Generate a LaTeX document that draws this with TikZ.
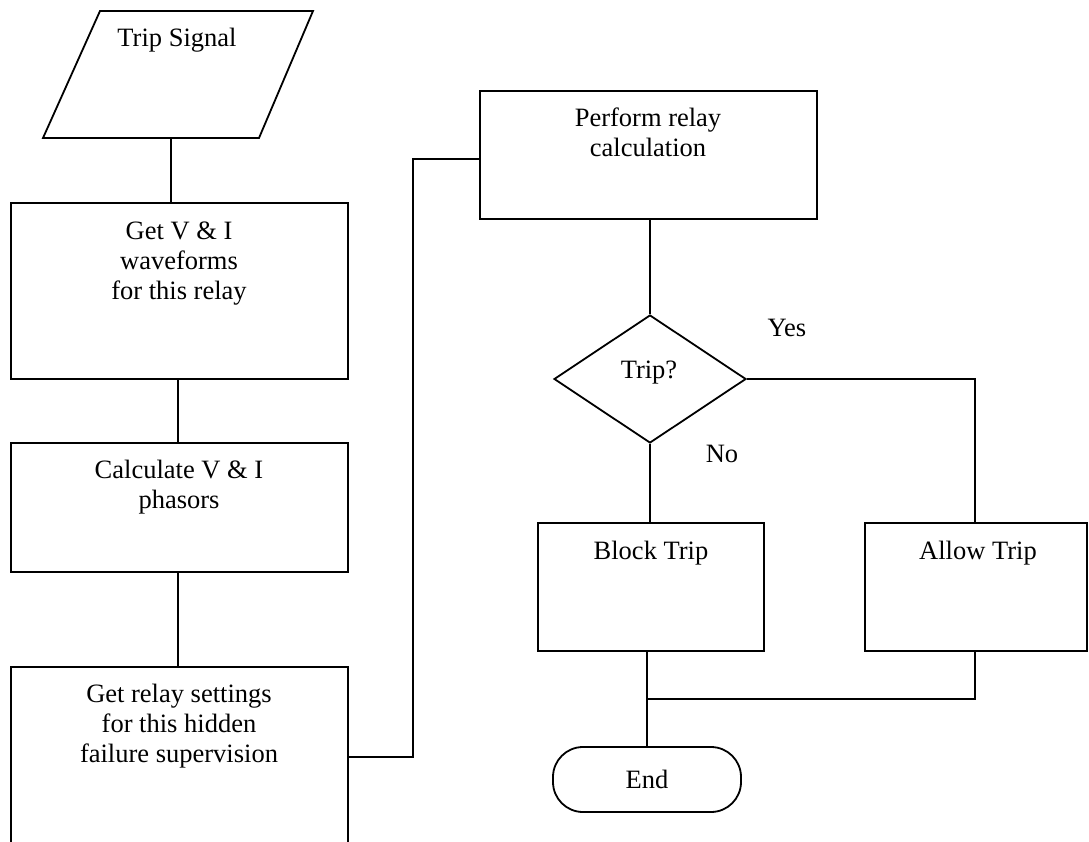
\documentclass[tikz,border=0pt]{standalone}
\usepackage{fontspec}
\setmainfont{Liberation Serif}
\usetikzlibrary{shapes.geometric}
\begin{document}
\begin{tikzpicture}[x=1pt,y=-1pt,
  line width=1.8pt,
  procbox/.style={draw, rectangle, inner sep=0pt},
  decision/.style={draw, diamond, inner sep=0pt,
    minimum width=192pt, minimum height=128pt},
  terminal/.style={draw, rectangle, rounded corners=30pt, inner sep=0pt,
    minimum width=188pt, minimum height=65pt},
  txt/.style={inner sep=0pt, align=center, anchor=base,
    font=\fontsize{26.5}{30}\selectfont},
  link/.style={draw}]
\useasboundingbox (0,0) rectangle (1089,842);

% input parallelogram
\coordinate (sigTL) at (100,11);
\coordinate (sigTR) at (313,11);
\coordinate (sigBR) at (259,138);
\coordinate (sigBL) at (43,138);
\draw (sigTL) -- (sigTR) -- (sigBR) -- (sigBL) -- cycle;
\node[txt] (sigT) at (177,47) {Trip Signal};

% left column (multi-line labels are anchored on their last baseline)
\node[procbox, minimum width=337pt, minimum height=176pt] (wave) at (179.5,291) {};
\node[txt] (waveT) at (179,299) {Get V \& I\\waveforms\\for this relay};

\node[procbox, minimum width=337pt, minimum height=129pt] (phas) at (179.5,507.5) {};
\node[txt] (phasT) at (179,508) {Calculate V \& I\\phasors};

\node[procbox, minimum width=337pt, minimum height=200pt] (sett) at (179.5,767) {};
\node[txt] (settT) at (179,762) {Get relay settings\\for this hidden\\failure supervision};

% right column
\node[procbox, minimum width=337pt, minimum height=128pt] (calc) at (648.5,155) {};
\node[txt] (calcT) at (648,157) {Perform relay\\calculation};

\node[decision] (trip) at (650,379) {};
\node[txt] (tripT) at (649,378) {Trip?};
\node[txt] (yes) at (787,336) {Yes};
\node[txt] (no) at (722,462) {No};

\node[procbox, minimum width=226pt, minimum height=128pt] (block) at (651,587) {};
\node[txt] (blockT) at (651,559) {Block Trip};

\node[procbox, minimum width=222pt, minimum height=128pt] (allow) at (976,587) {};
\node[txt] (allowT) at (978,559) {Allow Trip};

\node[terminal] (end) at (647,779.5) {};
\node[txt] (endT) at (647,788) {End};

% connectors
\coordinate (sigOut) at (171,138);
\coordinate (riser) at (413,757);
\coordinate (merge) at (647,699);
\draw[link] (sigOut) -- (sigOut |- wave.north);
\draw[link] (wave.south -| 178,0) -- (phas.north -| 178,0);
\draw[link] (phas.south -| 178,0) -- (sett.north -| 178,0);
\draw[link] (sett.east |- riser) -- (riser) |- (calc.west |- 0,159);
\draw[link] (calc.south -| trip.north) -- (trip.north);
\draw[link] (trip.east) -| (allow.north -| 975,0);
\draw[link] (trip.south) -- (trip.south |- block.north);
\draw[link] (allow.south -| 975,0) |- (merge);
\draw[link] (block.south -| end.north) -- (end.north);
\end{tikzpicture}
\end{document}
